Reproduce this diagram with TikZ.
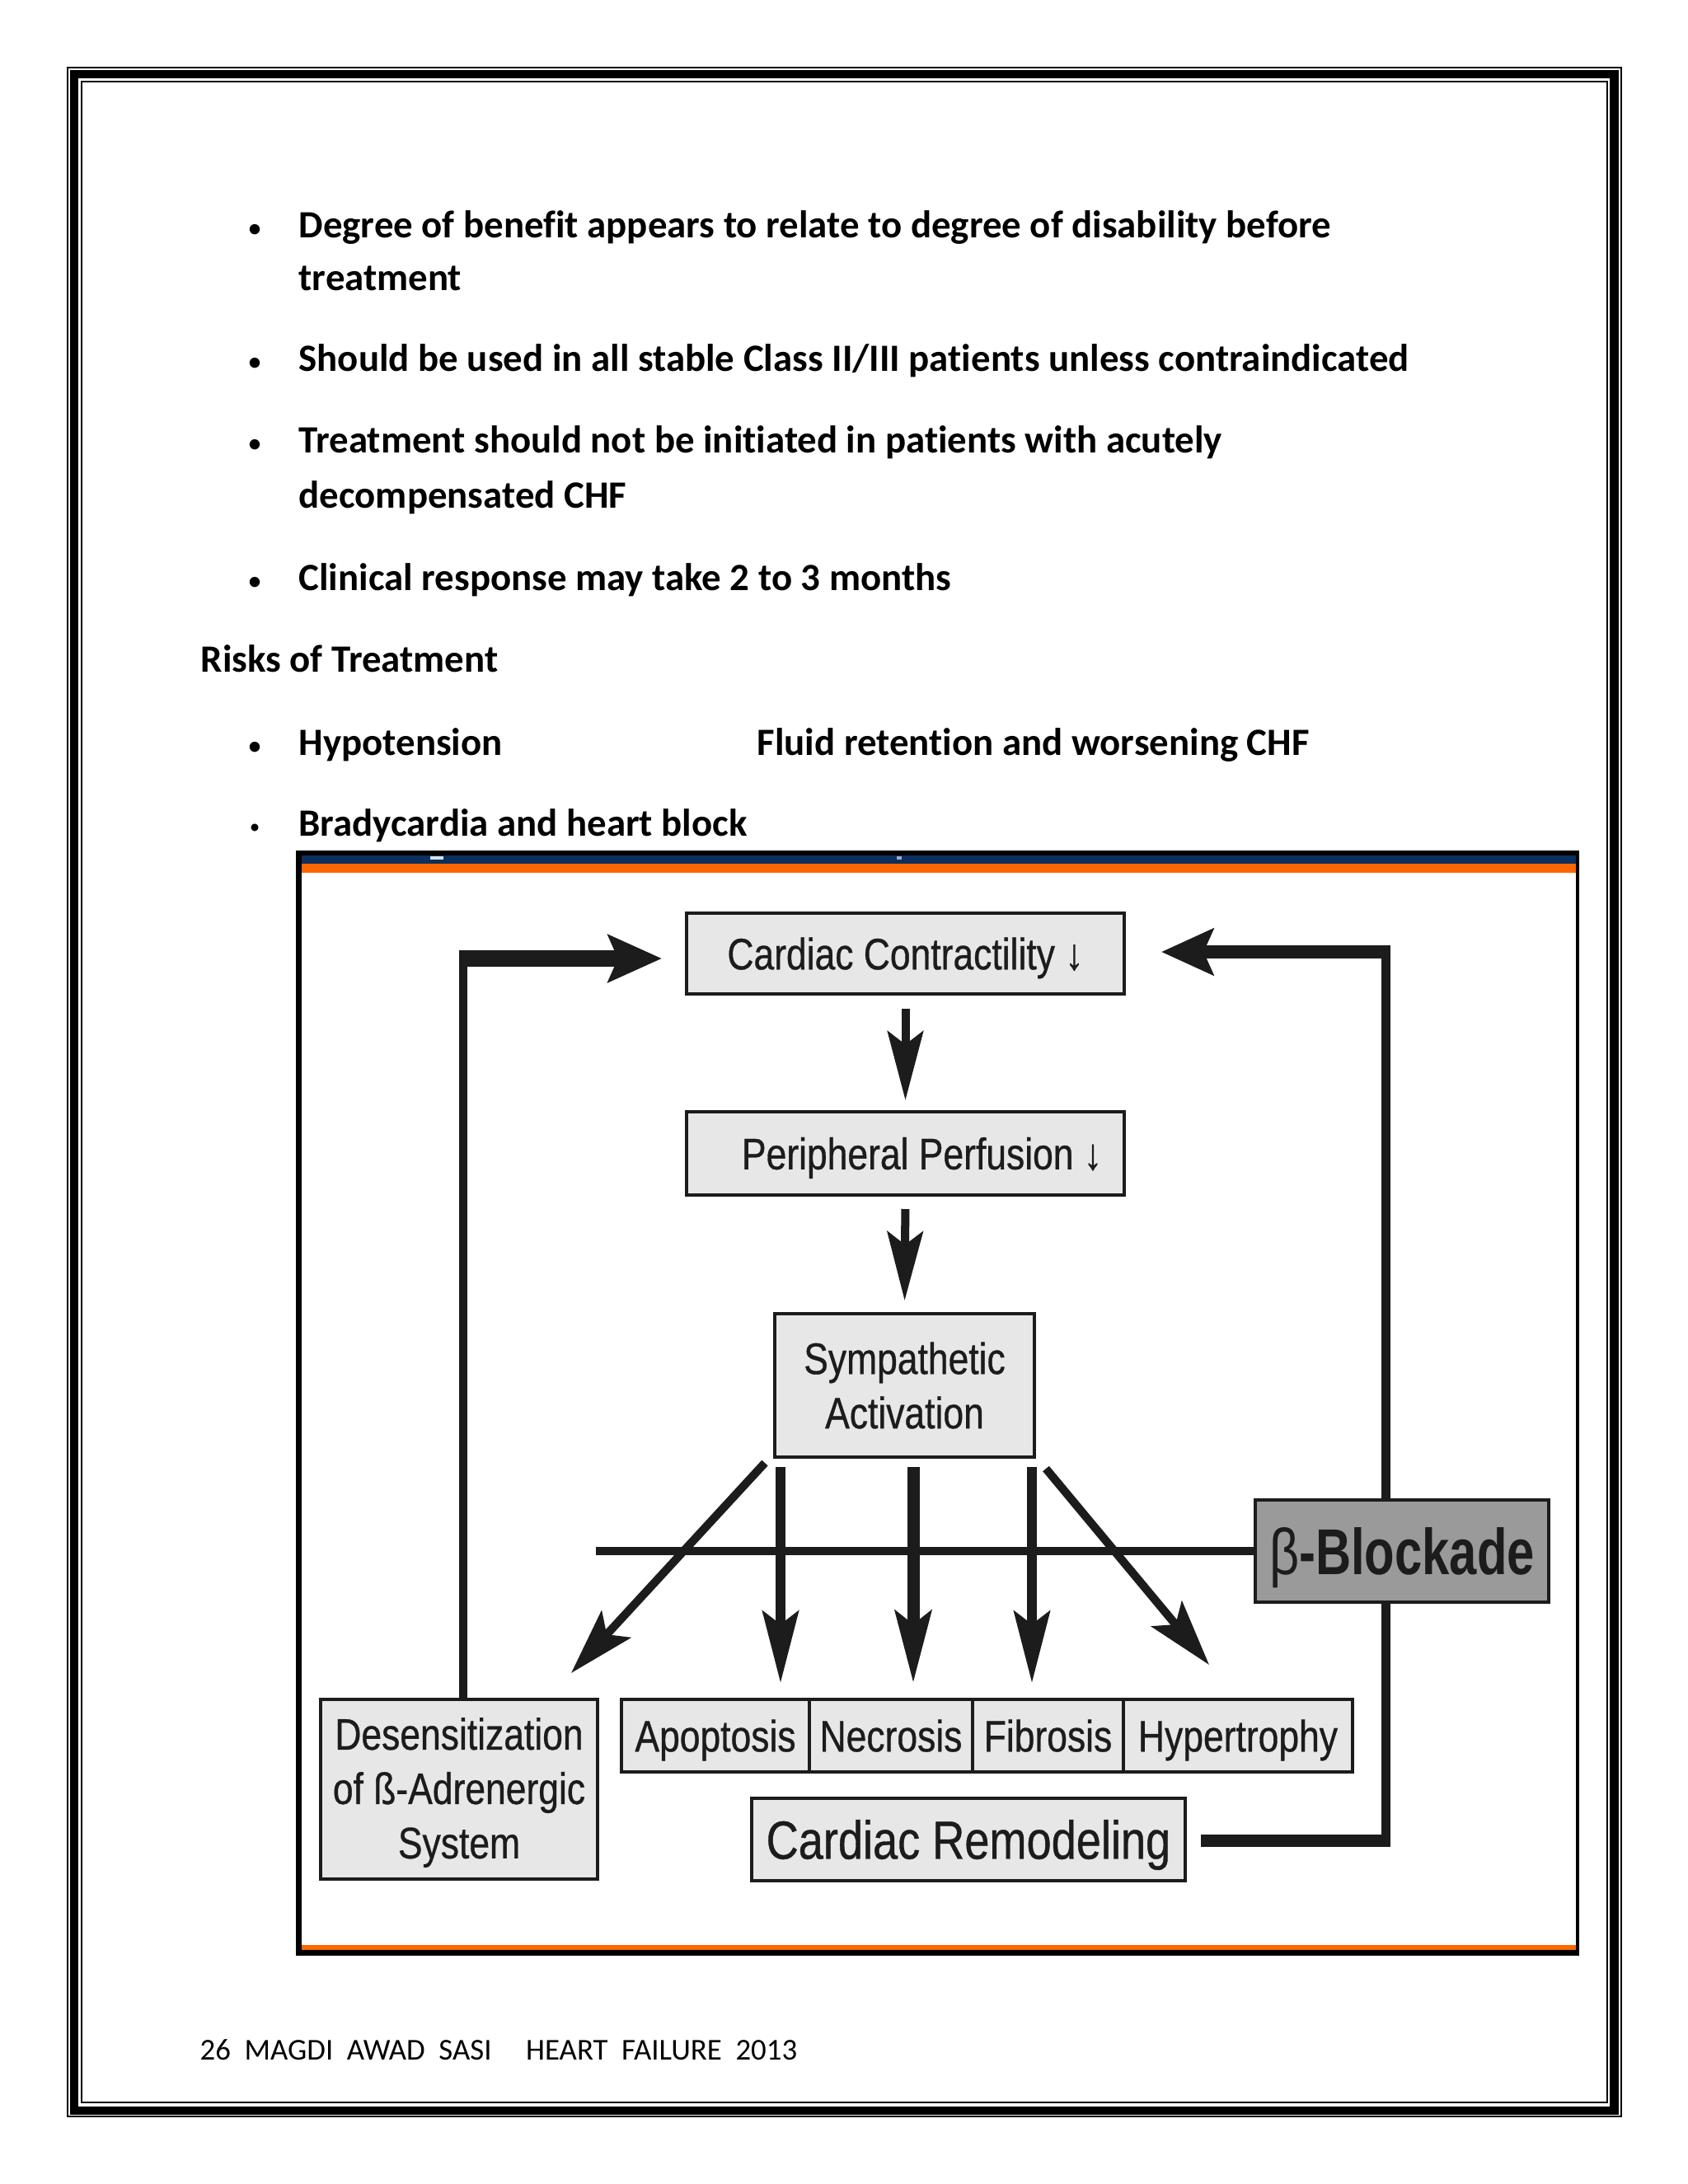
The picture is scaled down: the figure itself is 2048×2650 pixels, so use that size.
\documentclass[tikz,border=0pt]{standalone}
\usepackage{fontspec}
\setmainfont[Ligatures=NoCommon]{Carlito}
\newfontfamily\cond[FakeStretch=0.83,FakeBold=0.6]{Liberation Sans}
\newfontfamily\condb[FakeStretch=0.76]{Liberation Sans}
\newfontfamily\condbeta[FakeStretch=0.8]{Liberation Sans}
\usetikzlibrary{arrows.meta,calc}
\definecolor{navy}{HTML}{0B2F5E}
\definecolor{orng}{HTML}{FF6600}
\definecolor{boxfill}{HTML}{E7E7E7}
\definecolor{bbfill}{HTML}{9A9A9A}
\definecolor{ink}{HTML}{1C1C1C}
\tikzset{
  body/.style={anchor=base west, inner sep=0pt, font=\bfseries\fontsize{14}{16}\selectfont},
  bul/.style={anchor=base, inner sep=0pt, font=\fontsize{10.5}{12}\selectfont},
  box/.style={draw=ink, line width=1.2pt, fill=boxfill, inner sep=0pt, text=ink, align=center,
    font=\cond\fontsize{16}{19.7}\selectfont},
  oneline/.style={text height=11.5pt, text depth=0pt},
  arrsmall/.style={draw=ink, line width=2.99pt, -{Stealth[length=25pt, width=12.9pt, inset=4.8pt]}},
  arrmid/.style={draw=ink, line width=3.59pt, -{Stealth[length=26pt, width=13pt, inset=4.8pt]}},
  arrdiag/.style={draw=ink, line width=2.99pt, -{Stealth[length=24pt, width=14.3pt, inset=5pt]}},
  fb/.style={draw=ink},
}
\begin{document}
\begin{tikzpicture}[x=0.29883pt,y=-0.29883pt]
\useasboundingbox (0,0) rectangle (2048,2650);
\fill[white] (0,0) rectangle (2048,2650);
% page border
\draw[line width=0.6pt] (82,82) rectangle (1967,2568);
\draw[line width=3pt] (90,90) rectangle (1958.5,2560.5);
\draw[line width=0.6pt] (99,99) rectangle (1950,2551);

% body text
\node[bul] (b1) at (309,288) {•};
\node[body] (l1) at (362,288) {Degree of benefit appears to relate to degree of disability before};
\node[body] (l2) at (362,352) {treatment};
\node[bul] (b2) at (309,450) {•};
\node[body] (l3) at (362,450) {Should be used in all stable Class II/III patients unless contraindicated};
\node[bul] (b3) at (309,549) {•};
\node[body] (l4) at (362,549) {Treatment should not be initiated in patients with acutely};
\node[body] (l5) at (362,616) {decompensated CHF};
\node[bul] (b4) at (309,716) {•};
\node[body] (l6) at (362,716) {Clinical response may take 2 to 3 months};
\node[body] (l7) at (243,815) {Risks of Treatment};
\node[bul] (b5) at (309,916) {•};
\node[body] (l8) at (362,916) {Hypotension};
\node[body] (l9) at (918,916) {Fluid retention and worsening CHF};
\node[bul, font=\fontsize{7.5}{9}\selectfont] (b6) at (309,1011) {•};
\node[body] (l10) at (362,1014) {Bradycardia and heart block};

% footer
\node[anchor=base west, inner sep=0pt, font=\fontsize{11}{13}\selectfont] (foot) at (242,2499)
  {26~~MAGDI~~AWAD~~SASI~~~~~HEART~~FAILURE~~2013};

% diagram frame
\fill[black] (359,1032) rectangle (1916,2373);
\fill[white] (366,1038) rectangle (1912,2366);
\fill[navy] (366,1038) rectangle (1912,1048);
\fill[orng] (366,1048) rectangle (1912,1059);
\fill[orng] (366,2360) rectangle (1912,2366);
\fill[white!85!navy] (522,1039) rectangle (538,1043);
\fill[white!60!navy] (1088,1039) rectangle (1094,1043);

% boxes
\node[box, oneline, minimum width=158.68pt, minimum height=29.29pt] (cc) at (1098.5,1157) {Cardiac Contractility ↓};
\node[box, oneline, minimum width=158.68pt, minimum height=30.18pt] (pp) at (1098.5,1399.5) {\hspace*{12pt}Peripheral Perfusion ↓};
\node[box, minimum width=94.13pt, minimum height=52pt] (sa) at (1097.5,1681) {Sympathetic\\Activation};
\node[box, minimum width=100.41pt, minimum height=65.14pt] (ds) at (557,2171) {\rule{0pt}{14pt}Desensitization\\of ß-Adrenergic\\System};
\node[box, oneline, minimum width=68.13pt, minimum height=26.3pt] (ap) at (868,2106) {Apoptosis};
\node[box, oneline, minimum width=59.17pt, minimum height=26.3pt] (ne) at (1081,2106) {Necrosis};
\node[box, oneline, minimum width=54.69pt, minimum height=26.3pt] (fi) at (1271.5,2106) {Fibrosis};
\node[box, oneline, minimum width=83.07pt, minimum height=26.3pt] (hy) at (1502,2106) {Hypertrophy};
\node[box, oneline, minimum width=157.18pt, minimum height=29.88pt, font=\cond\fontsize{19.5}{22}\selectfont, text height=14pt] (cr) at (1175,2232) {Cardiac Remodeling};

% feedback left
\coordinate (lcorner) at (562,1163);
\draw[fb, line width=2.99pt] (ds.north -| lcorner) -- ($(lcorner)+(0,-10)$);
\draw[fb, line width=5.98pt, -{Stealth[length=19.4pt, width=17pt, inset=3.5pt]}, shorten >=8.37pt]
  ($(lcorner)+(-5,0)$) -- (cc.west |- lcorner);

% feedback right
\coordinate (rc1) at (1681,2233);
\coordinate (rc2) at (1681,1155);
\draw[fb, line width=4.48pt] ($(cr.east)+(17,1)$) -- ($(rc1)+(5.5,0)$);
\draw[fb, line width=3.29pt] ($(rc1)+(0,7.5)$) -- ($(rc2)+(0,-8)$);
\draw[fb, line width=4.78pt, -{Stealth[length=18.8pt, width=16.7pt, inset=3.5pt]}, shorten >=12.85pt]
  ($(rc2)+(6,0)$) -- (cc.east |- rc2);

% beta blockade
\node[box, oneline, fill=bbfill, minimum width=106.38pt, minimum height=37.05pt, font=\condb\fontsize{23.5}{26}\selectfont, text height=17pt] (bb) at (1701,1882)
  {{\condbeta β}\bfseries -Blockade};
\coordinate (bl) at (723,1882);
\draw[fb, line width=2.99pt] (bl) -- (bl -| bb.west);

% vertical flow
\draw[arrsmall, shorten <=4.78pt, shorten >=3.59pt] (cc.south) -- (pp.north);
\draw[arrsmall, shorten <=4.48pt, shorten >=4.18pt] (pp.south) -- (sa.north);

% fan of arrows
\coordinate (t1) at (947,2042);
\coordinate (t2) at (1108,2042);
\coordinate (t3) at (1252,2042);
\coordinate (d1) at (693,2030);
\coordinate (d2) at (1467,2020);
\draw[arrmid, shorten <=2.99pt] (sa.south -| t1) -- (t1);
\draw[arrmid, line width=4.48pt, shorten <=2.99pt] (sa.south -| t2) -- (t2);
\draw[arrmid, shorten <=2.99pt] (sa.south -| t3) -- (t3);
\draw[arrdiag] ($(sa.south west)+(-10,5)$) -- (d1);
\draw[arrdiag] ($(sa.south east)+(12,12)$) -- (d2);
\end{tikzpicture}
\end{document}
